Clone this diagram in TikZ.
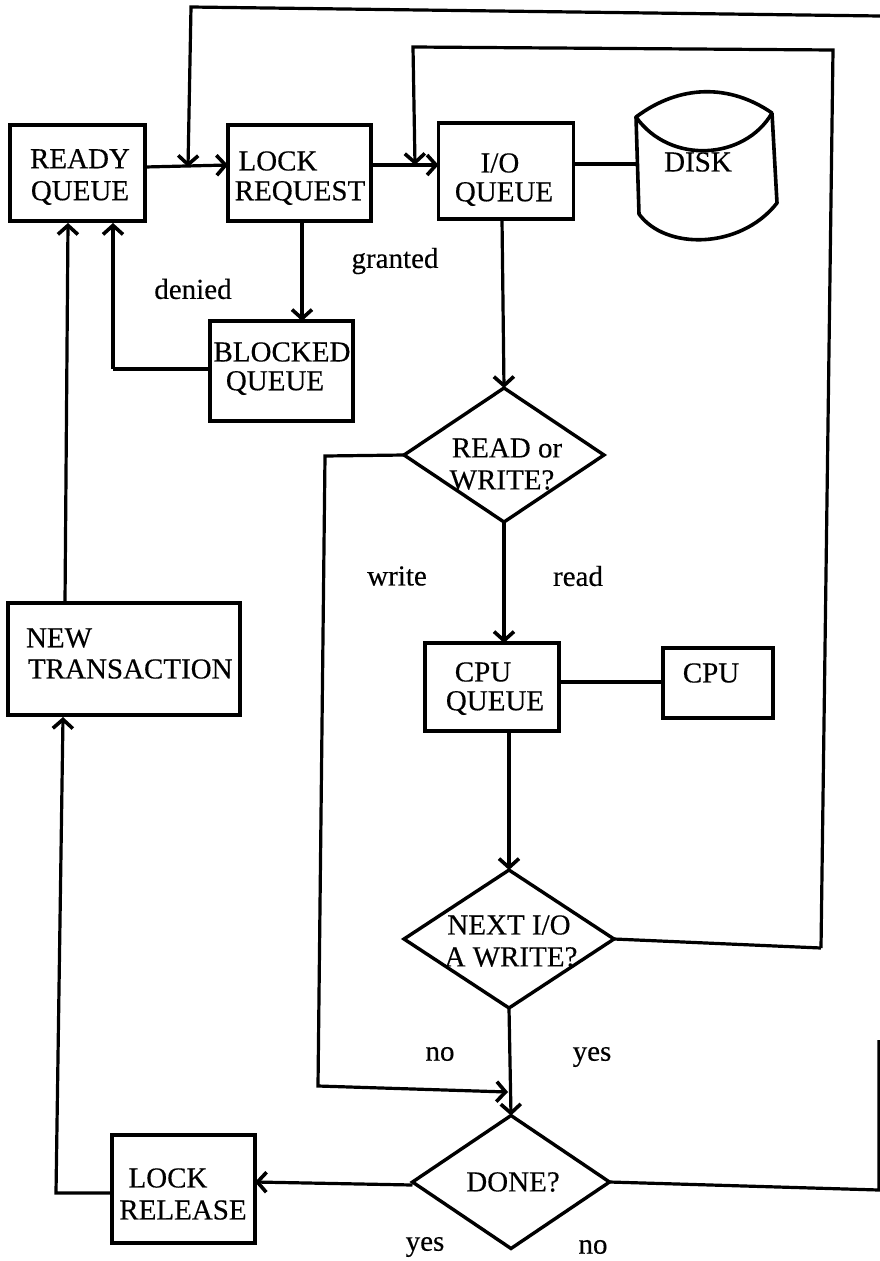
\documentclass[tikz,border=0pt]{standalone}
\usepackage{fontspec}
\setmainfont{Liberation Serif}[FakeBold=0.35]
\usetikzlibrary{arrows.meta,shapes.geometric}
\tikzset{
  flowbox/.style={draw,rectangle,line width=3.9pt,inner sep=0pt,outer sep=0pt,line join=miter},
  flowdiamond/.style={draw,diamond,line width=3.4pt,inner sep=0pt,outer sep=0pt,aspect=1.45},
  lbl/.style={inner sep=0pt,outer sep=0pt,font=\fontsize{29}{32}\selectfont},
  smalllbl/.style={inner sep=0pt,outer sep=0pt,font=\fontsize{29}{30}\selectfont},
  wire/.style={line width=3.2pt,line join=miter},
  flow/.style={wire,-{Straight Barb[length=9pt,width=20pt,line width=3.6pt]}},
}
\begin{document}
\begin{tikzpicture}[x=1pt,y=-1pt]
\useasboundingbox (0,0) rectangle (880,1261);
% boxes
\node[flowbox,minimum width=135pt,minimum height=96pt] (ready) at (77.5,173) {};
\node[flowbox,minimum width=143pt,minimum height=96pt] (lock) at (299.5,173) {};
\node[flowbox,minimum width=135pt,minimum height=96pt] (io) at (506,171) {};
\node[flowbox,minimum width=143pt,minimum height=100pt] (blocked) at (281.5,371) {};
\node[flowbox,minimum width=232pt,minimum height=112pt] (newtx) at (124,659) {};
\node[flowbox,minimum width=134pt,minimum height=88pt] (cpuq) at (492,687) {};
\node[flowbox,minimum width=110pt,minimum height=70pt] (cpu) at (718,683) {};
\node[flowbox,minimum width=143pt,minimum height=108pt] (release) at (183.5,1189) {};
% decisions
\node[flowdiamond,minimum width=200pt,minimum height=134pt] (rw) at (504,455) {};
\node[flowdiamond,minimum width=210pt,minimum height=138pt] (next) at (509,939) {};
\node[flowdiamond,minimum width=197pt,minimum height=133pt] (done) at (511,1182) {};
% disk
\coordinate (diskTL) at (636,117);
\coordinate (diskTR) at (772,113);
\coordinate (diskBL) at (639,214);
\coordinate (diskBR) at (777,203);
\draw[line width=3.6pt,line join=round]
  (diskTL) .. controls (680,84) and (730,84) .. (diskTR)
  .. controls (745,160) and (670,165) .. (diskTL) -- cycle;
\draw[line width=3.6pt,line join=round]
  (diskTL) -- (diskBL) .. controls (665,250) and (740,250) .. (diskBR) -- (diskTR);
% texts
\node[lbl,align=center] (tready) at (80,177) {READY\\QUEUE};
\node[lbl] (tlockreq1) at (278,161) {LOCK};
\node[lbl] (tlockreq2) at (300,193) {REQUEST};
\node[lbl] (tio1) at (500,163) {I/O};
\node[lbl] (tio2) at (504,194) {QUEUE};
\node[lbl] (tdisk) at (698,162) {DISK};
\node[lbl] (tblk1) at (282,352) {BLOCKED};
\node[lbl] (tblk2) at (275,383) {QUEUE};
\node[lbl,anchor=west] (tnew1) at (26,638) {NEW};
\node[lbl,anchor=west] (tnew2) at (28,669) {TRANSACTION};
\node[lbl] (trw1) at (507,448) {READ or};
\node[lbl] (trw2) at (502,480) {WRITE?};
\node[lbl] (tcq1) at (483,672) {CPU};
\node[lbl] (tcq2) at (495,703) {QUEUE};
\node[lbl] (tcpu) at (711,673) {CPU};
\node[lbl] (tn1) at (509,925) {NEXT I/O};
\node[lbl] (tn2) at (511,957) {A WRITE?};
\node[lbl] (tdone) at (513,1182) {DONE?};
\node[lbl] (trl1) at (168,1178) {LOCK};
\node[lbl] (trl2) at (183,1210) {RELEASE};
\node[smalllbl] (ldenied) at (193,289) {denied};
\node[smalllbl] (lgranted) at (395,261) {granted};
\node[smalllbl] (lwrite) at (397,576) {write};
\node[smalllbl] (lread) at (578,576) {read};
\node[smalllbl] (lno1) at (440,1054) {no};
\node[smalllbl] (lyes1) at (592,1057) {yes};
\node[smalllbl] (lyes2) at (425,1247) {yes};
\node[smalllbl] (lno2) at (593,1247) {no};
% connector corners
\coordinate (outerEnd) at (880,16);
\coordinate (outerCorner) at (191,7);
\coordinate (outerDrop) at (188,167);
\coordinate (innerCorner) at (413,47);
\coordinate (innerTR) at (833,50);
\coordinate (innerBR) at (821,948);
\coordinate (innerDrop) at (415,165);
\coordinate (blkCorner) at (113,369);
\coordinate (blkUp) at (113,223);
\coordinate (newUp) at (68,223);
\coordinate (newTop) at (65,603);
\coordinate (relCorner) at (56,1193);
\coordinate (relUp) at (63,717);
\coordinate (writeCorner) at (325,456);
\coordinate (writeBottom) at (318,1086);
\coordinate (writeEnd) at (508,1092);
\coordinate (doneEdge) at (879,1190);
\coordinate (edgeTop) at (879,1040);
% connectors
\draw[flow] ([yshift=6pt]ready.east) -- ([yshift=8pt]lock.west);
\draw[flow] ([yshift=8pt]lock.east) -- ([yshift=6pt]io.west);
\draw[wire] ([yshift=7pt]io.east) -- ([yshift=7pt]io.east -| diskTL);
\draw[flow] (outerEnd) -- (outerCorner) -- (outerDrop);
\draw[flow] (innerBR) -- (innerTR) -- (innerCorner) -- (innerDrop);
\draw[wire] (next.east) -- (innerBR);
\draw[flow] ([xshift=2.5pt]lock.south) -- ([xshift=2.5pt]lock.south |- blocked.north);
\draw[wire] (blocked.west |- blkCorner) -- (blkCorner);
\draw[flow] (blkCorner) -- (blkUp);
\draw[flow] (newTop) -- (newUp);
\draw[flow] (release.west |- relCorner) -- (relCorner) -- (relUp);
\draw[flow] ([xshift=-4pt]io.south) -- (rw.north);
\draw[flow] (rw.south) -- (cpuq.north -| rw.south);
\draw[wire] (cpuq.east |- 0,682) -- (cpu.west |- 0,682);
\draw[flow] (cpuq.south -| next.north) -- (next.north);
\draw[flow] (next.south) -- (done.north);
\draw[flow] (rw.west) -- (writeCorner) -- (writeBottom) -- (writeEnd);
\draw[flow] ([yshift=-3pt]done.west) -- ([yshift=7pt]release.east);
\draw[wire] (done.east) -- (doneEdge) -- (edgeTop);
\end{tikzpicture}
\end{document}
